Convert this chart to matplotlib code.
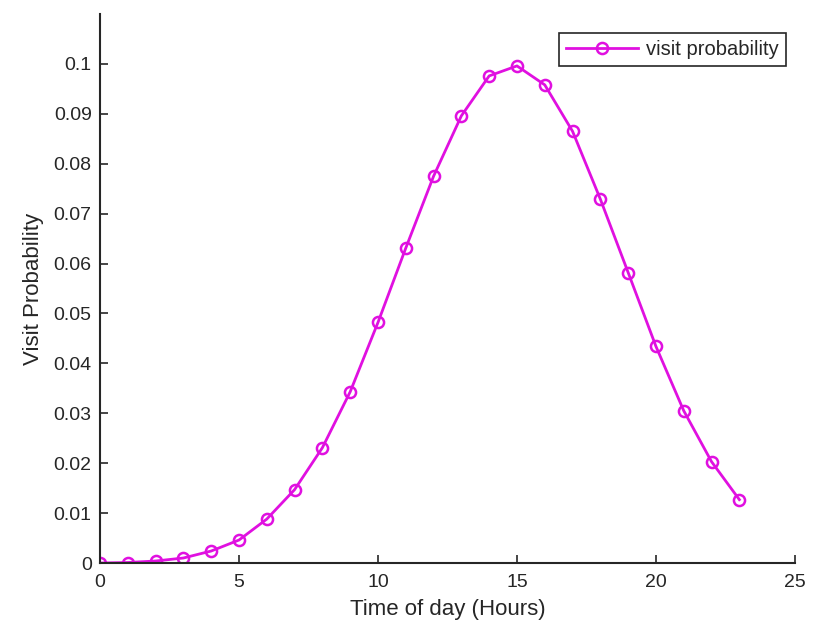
import numpy as np
import matplotlib.pyplot as plt

plt.rcParams['font.family'] = ['Liberation Sans', 'DejaVu Sans']

hours = list(range(24))
visit_prob = [0.0, 0.0001, 0.0004, 0.0010, 0.0024, 0.0046, 0.0088, 0.0147,
              0.0231, 0.0343, 0.0482, 0.0631, 0.0775, 0.0896, 0.0976, 0.0996,
              0.0958, 0.0865, 0.0729, 0.0582, 0.0434, 0.0305, 0.0203, 0.0127]

xticks = [0, 5, 10, 15, 20, 25]
yticks = [0, 0.01, 0.02, 0.03, 0.04, 0.05, 0.06, 0.07, 0.08, 0.09, 0.1]
ytick_labels = ['0', '0.01', '0.02', '0.03', '0.04', '0.05', '0.06',
                '0.07', '0.08', '0.09', '0.1']

fig = plt.figure(figsize=(8.17, 6.28), dpi=100)
ax = fig.add_axes([0.1224, 0.1035, 0.8506, 0.8742])

col = '#e010e0'
txt = '#262626'
ax.plot(hours, visit_prob, color=col, lw=2, marker='o', ms=8,
        mfc='none', mec=col, mew=1.8, label='visit probability')

ax.set_xlim(0, 25)
ax.set_ylim(0, 0.11)
ax.set_xticks(xticks)
ax.set_yticks(yticks)
ax.set_yticklabels(ytick_labels)

for s in ['top', 'right']:
    ax.spines[s].set_visible(False)
for s in ['left', 'bottom']:
    ax.spines[s].set_linewidth(1.5)
    ax.spines[s].set_color(txt)
ax.tick_params(direction='in', length=6, width=1.2, labelsize=14,
               colors=txt)
ax.tick_params(axis='x', pad=8)
ax.tick_params(axis='y', pad=6)

ax.set_xlabel('Time of day (Hours)', fontsize=16, labelpad=6, color=txt)
ax.set_ylabel('Visit Probability', fontsize=16, labelpad=7, color=txt)

leg = ax.legend(loc='upper right', bbox_to_anchor=(0.987, 0.965), fontsize=14.5,
                fancybox=False, edgecolor=txt, framealpha=1,
                handlelength=3.6, handletextpad=0.4, borderpad=0.35,
                borderaxespad=0)
leg.get_frame().set_linewidth(1.2)
for t in leg.get_texts():
    t.set_color(txt)

fig.savefig('out.png', dpi=100)
